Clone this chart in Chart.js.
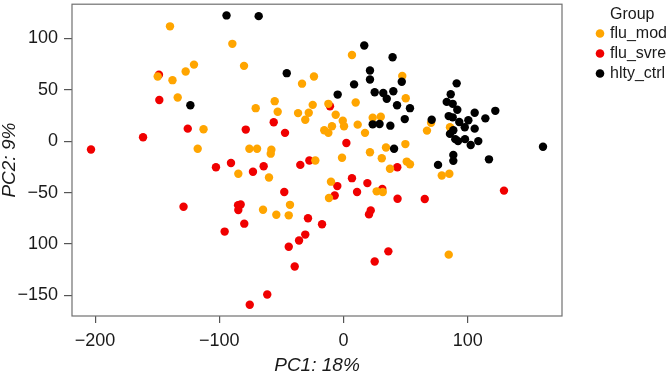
<!DOCTYPE html>
<html>
<head>
<meta charset="utf-8">
<script src="https://cdn.jsdelivr.net/npm/chart.js@4"></script>
<style>
  body { margin: 0; background: #fff; }
</style>
</head>
<body>
<canvas id="pca" width="668" height="372"></canvas>
<script>
// PCA scores
const groupNames = ['flu_mod', 'flu_svre', 'hlty_ctrl'];

const fluModX = [-139.7, -149.6, -137.7, -127.1, -120.4, -133.5, -117.4, -112.7, -89.5, -80.1,
  -84.7, -75.8, -69.6, -58.1, -58.6, -60.0, -64.8, -54.1, -43.1, -44.1,
  -70.7, -55.4, -53.0, -36.6, -28.0, -30.8, -33.4, -23.8, -24.8, -12.2,
  -6.3, -0.6, 0.4, -9.3, -15.5, -12.2, -22.7, -10.1, -11.7, -1.2,
  6.8, 9.8, 11.4, 17.3, 21.3, 23.5, 30.0, 34.2, 30.8, 37.4,
  26.7, 31.6, 47.3, 50.1, 49.8, 50.9, 53.5, 70.5, 67.2, 85.7,
  79.1, 85.2, 84.7];
const fluModY = [111.5, 62.8, 59.2, 67.6, 74.3, 42.3, -7.4, 11.5, 94.5, 73.1,
  -31.7, -7.4, -7.4, -8.4, -12.2, -35.3, -66.7, -71.5, -61.9, -72.1,
  32.0, 38.8, 28.5, 27.2, 27.5, 20.8, 55.8, 62.8, 35.2, 36.2,
  25.6, 19.8, 14.4, 14.4, 10.6, 8.0, -18.9, -39.4, -55.2, -16.1,
  83.7, 37.5, 16.0, 8.0, -10.8, 22.7, 23.7, -6.2, -16.7, -26.9,
  -48.8, -49.4, 63.3, 41.6, -2.9, -19.9, -22.5, 17.9, 10.2, 13.5,
  -33.4, -31.7, -110.3];

const fluSvreX = [-148.6, -148.3, -125.4, -161.4, -203.3, -128.8, -102.7, -90.6, -84.9, -84.7,
  -82.8, -95.7, -79.9, -78.7, -56.2, -47.1, -72.9, -64.3, -47.7, -34.8,
  -27.5, -28.6, -17.3, -30.8, -35.8, -44.1, -39.3, -61.4, -75.5, -10.9,
  2.3, -5.0, -7.1, 6.8, 19.2, 10.9, 31.2, 43.5, 43.3, 21.9,
  20.5, 36.1, 25.1, 65.4, 129.2];
const fluSvreY = [64.4, 40.0, 12.1, 3.8, -8.1, -63.8, -25.4, -21.2, -62.2, -67.0,
  -61.5, -87.9, -80.2, 11.2, 18.3, 8.0, -29.8, -24.4, -49.4, -23.1,
  -18.9, -75.0, -80.8, -90.8, -96.5, -102.6, -121.8, -149.0, -159.0, 33.9,
  -1.9, -43.7, -52.9, -36.0, -40.8, -49.4, -46.5, -56.0, -25.4, -67.3,
  -71.2, -107.1, -117.0, -56.2, -48.1];

const hltyCtrlX = [-123.3, -94.2, -68.3, -45.7, -4.7, 16.7, 8.5, 21.3, 21.3, 39.5,
  25.1, 32.0, 34.8, 40.1, 43.1, 46.9, 53.5, 49.3, 37.7, 29.0,
  23.5, 40.7, 71.0, 91.1, 86.3, 83.1, 87.9, 91.6, 84.7, 87.9,
  105.6, 122.2, 114.2, 93.2, 100.5, 97.6, 105.6, 88.4, 85.7, 90.0,
  92.2, 97.8, 102.4, 108.5, 160.6, 88.4, 88.4, 76.1, 117.1];
const hltyCtrlY = [34.9, 122.1, 121.4, 66.0, 45.2, 92.9, 55.1, 68.6, 59.9, 81.5,
  47.4, 46.7, 41.2, 48.4, 34.9, 57.7, 32.0, 21.4, 15.0, 16.6,
  16.3, -7.4, 20.8, 56.1, 45.5, 38.1, 36.2, 30.4, 24.3, 23.1,
  27.5, 29.4, 22.1, 18.6, 20.2, 13.5, 12.1, 10.6, 7.0, 1.9,
  0.0, 1.9, -3.8, 0.0, -5.5, -13.5, -19.2, -23.1, -17.7];

const xTicks = [-200, -100, 0, 100];
const xTickLabels = ['\u2212200', '\u2212100', '0', '100'];
const yTicks = [100, 50, 0, -50, -100, -150];
const yTickLabels = ['100', '50', '0', '\u221250', '100', '\u2212150'];

const groupColors = ['#FFA500', '#F00000', '#000000'];

function toPoints(xs, ys) {
  return xs.map((x, i) => ({ x: x, y: ys[i] }));
}

const frameBox = {
  id: 'frameBox',
  beforeDatasetsDraw(chart) {
    const a = chart.chartArea;
    const ctx = chart.ctx;
    ctx.save();
    ctx.strokeStyle = '#707070';
    ctx.lineWidth = 1.2;
    ctx.strokeRect(a.left, a.top, a.right - a.left, a.bottom - a.top);
    ctx.restore();
  }
};

// legend on the right, drawn by hand so it sits like the R one
const groupLegend = {
  id: 'groupLegend',
  afterDraw(chart) {
    const ctx = chart.ctx;
    ctx.save();
    ctx.font = '16px "Liberation Sans", Arial, sans-serif';
    ctx.fillStyle = '#1a1a1a';
    ctx.textBaseline = 'middle';
    ctx.textAlign = 'left';
    ctx.fillText('Group', 610, 15);
    groupNames.forEach((name, i) => {
      const y = 33.5 + i * 20;
      ctx.beginPath();
      ctx.arc(600, y, 4.3, 0, Math.PI * 2);
      ctx.fillStyle = groupColors[i];
      ctx.fill();
      ctx.fillStyle = '#1a1a1a';
      ctx.fillText(name, 610, y + 0.5);
    });
    ctx.restore();
  }
};

const tickFont = { family: '"Liberation Sans", Arial, sans-serif', size: 18 };
const titleFont = { family: '"Liberation Sans", Arial, sans-serif', size: 19, style: 'italic', lineHeight: 1 };

new Chart(document.getElementById('pca').getContext('2d'), {
  type: 'scatter',
  data: {
    datasets: [
      { label: groupNames[0], data: toPoints(fluModX, fluModY), backgroundColor: groupColors[0], order: 1 },
      { label: groupNames[1], data: toPoints(fluSvreX, fluSvreY), backgroundColor: groupColors[1], order: 2 },
      { label: groupNames[2], data: toPoints(hltyCtrlX, hltyCtrlY), backgroundColor: groupColors[2], order: 0 }
    ]
  },
  options: {
    responsive: false,
    animation: false,
    devicePixelRatio: 1,
    layout: { padding: { left: 0, right: 106, top: 1, bottom: 0 } },
    elements: { point: { radius: 4.2, borderWidth: 0, hoverRadius: 4.2 } },
    plugins: { legend: { display: false }, tooltip: { enabled: false } },
    scales: {
      x: {
        type: 'linear',
        min: -218.6,
        max: 175.9,
        afterBuildTicks: s => { s.ticks = xTicks.map(v => ({ value: v })); },
        afterFit: s => { s.height = 56; s.paddingLeft = 0; s.paddingRight = 0; },
        grid: { drawOnChartArea: false, drawTicks: true, tickLength: 7, color: '#555', lineWidth: 1.2 },
        border: { display: false },
        ticks: {
          font: tickFont, color: '#1a1a1a', padding: 7, maxRotation: 0,
          callback: (v) => xTickLabels[xTicks.indexOf(v)]
        },
        title: { display: true, text: 'PC1: 18%', font: titleFont, color: '#1a1a1a', padding: { top: 0, bottom: -3 } }
      },
      y: {
        type: 'linear',
        min: -169.9,
        max: 133,
        afterBuildTicks: s => { s.ticks = yTicks.map(v => ({ value: v })); },
        afterFit: s => { s.width = 72; s.paddingTop = 0; s.paddingBottom = 0; },
        grid: { drawOnChartArea: false, drawTicks: true, tickLength: 8, color: '#555', lineWidth: 1.2 },
        border: { display: false },
        ticks: {
          font: tickFont, color: '#1a1a1a', padding: 6,
          callback: (v) => yTickLabels[yTicks.indexOf(v)]
        },
        title: { display: true, text: 'PC2: 9%', font: titleFont, color: '#1a1a1a', padding: { top: 0, bottom: 0 } }
      }
    }
  },
  plugins: [frameBox, groupLegend]
});
</script>
</body>
</html>
